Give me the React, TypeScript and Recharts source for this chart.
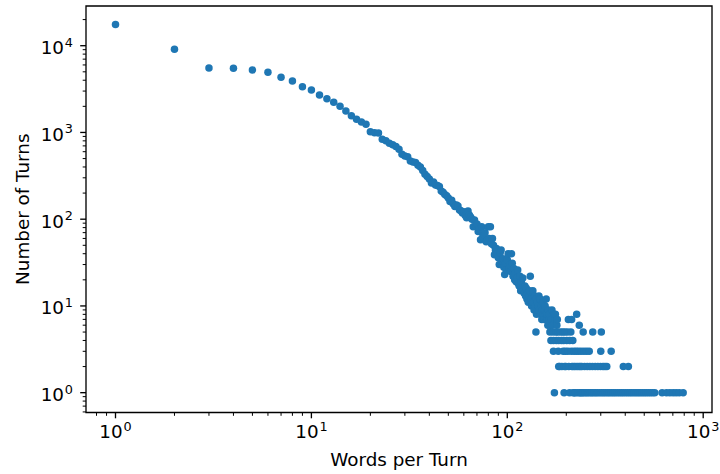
import React from "react";
import { ScatterChart, Scatter, XAxis, YAxis, ReferenceArea } from "recharts";

// Number of turns for 1..99 words per turn
const headCounts = [
  17500, 9100, 5550, 5500, 5250, 4930, 4320, 3920, 3370, 3085,
  2700, 2450, 2230, 2000, 1770, 1560, 1420, 1320, 1240, 1020,
  995, 985, 835, 800, 750, 720, 690, 640, 560, 535,
  525, 470, 455, 450, 420, 400, 365, 330, 310, 290,
  262, 268, 248, 245, 238, 212, 205, 192, 186, 175,
  160, 165, 150, 140, 146, 142, 128, 125, 118, 122,
  110, 104, 124, 112, 106, 100, 82, 98, 84, 88,
  72, 78, 58, 82, 63, 66, 70, 55, 57, 82,
  60, 82, 52, 60, 50, 39, 44, 46, 40, 36,
  30, 41, 44, 33, 35, 28, 23, 31, 26,
];

// Noisy middle part
const midWords = [
  100, 101, 102, 103, 104, 105, 106, 107, 108, 109,
  110, 111, 112, 113, 114, 115, 116, 117, 118, 119,
  120, 121, 122, 123, 124, 125, 126, 127, 128, 129,
  130, 131, 132, 133, 134, 135, 136, 137, 138, 139,
  140, 141, 142, 143, 144, 145, 146, 147, 148, 149,
  150, 151, 152, 153, 154, 155, 156, 157, 158, 159,
  160, 161, 162, 163, 164, 166, 168, 169, 170, 173,
  175, 176, 179, 180,
];
const midCounts = [
  34, 40, 27, 30, 25, 40, 31, 22, 27, 20,
  24, 19, 21, 26, 18, 17, 22, 15, 19, 16,
  21, 15, 14, 17, 13, 16, 12, 14, 11, 13,
  15, 22, 12, 10, 11, 15, 11, 9, 13, 10,
  12, 8, 11, 9, 10, 13, 9, 12, 8, 10,
  7, 9, 11, 8, 7, 9, 10, 8, 12, 7,
  8, 6, 9, 7, 8, 6, 7, 9, 6, 8,
  7, 8, 6, 7,
];

// Tail: words-per-turn values that occur a given small number of times
const wordsWith8 = [226];
const wordsWith7 = [205, 213];
const wordsWith6 = [233];
const wordsWith5 = [140, 165, 171, 177, 181, 187, 192, 197, 203, 211, 244, 273, 302];
const wordsWith4 = [167, 172, 178, 183, 189, 194, 201, 208, 216];
const wordsWith3 = [172, 182, 193, 198, 204, 212, 219, 225, 231, 238, 246, 254, 262, 300, 339];
const wordsWith2 = [
  183, 185, 190, 196, 199, 206, 214, 218, 222, 227, 232, 236, 240, 248, 256,
  264, 272, 281, 290, 299, 308, 315, 322, 391, 415,
];
const wordsWith1 = [
  174, 195, 208, 217, 220, 223, 229, 234, 237, 241, 245, 250, 255, 260, 266,
  271, 277, 283, 289, 296, 303, 310, 317, 325, 332, 340, 348, 356, 365, 374,
  383, 392, 402, 412, 422, 432, 443, 454, 465, 476, 488, 500, 512, 525, 538,
  552, 566, 617, 650, 676, 702, 727, 754, 790,
];

const xDomain: [number, number] = [0.707, 1109];
const yDomain: [number, number] = [0.591, 28690];
const xMajorTicks = [1, 10, 100, 1000];
const yMajorTicks = [1, 10, 100, 1000, 10000];
const minorMultipliers = [2, 3, 4, 5, 6, 7, 8, 9];

const points: { x: number; y: number }[] = [
  ...headCounts.map((c, i) => ({ x: i + 1, y: c })),
  ...midWords.map((w, i) => ({ x: w, y: midCounts[i] })),
  ...wordsWith8.map((w) => ({ x: w, y: 8 })),
  ...wordsWith7.map((w) => ({ x: w, y: 7 })),
  ...wordsWith6.map((w) => ({ x: w, y: 6 })),
  ...wordsWith5.map((w) => ({ x: w, y: 5 })),
  ...wordsWith4.map((w) => ({ x: w, y: 4 })),
  ...wordsWith3.map((w) => ({ x: w, y: 3 })),
  ...wordsWith2.map((w) => ({ x: w, y: 2 })),
  ...wordsWith1.map((w) => ({ x: w, y: 1 })),
];

function logTicks(domain: [number, number], majors: number[]) {
  const out: number[] = [];
  const decades = [majors[0] / 10, ...majors];
  for (const d of decades) {
    if (d >= domain[0] && d <= domain[1]) out.push(d);
    for (const m of minorMultipliers) {
      const v = d * m;
      if (v >= domain[0] && v <= domain[1]) out.push(v);
    }
  }
  return out.sort((a, b) => a - b);
}

const xTicks = logTicks(xDomain, xMajorTicks);
const yTicks = logTicks(yDomain, yMajorTicks);

const FONT = "DejaVu Sans, Verdana, sans-serif";
const FS = 18.33;
const SUP = 12.8;

const isMajor = (v: number) => {
  const l = Math.log10(v);
  return Math.abs(l - Math.round(l)) < 1e-6;
};

const XTick = (props: any) => {
  const { x, y, payload } = props;
  const v = payload.value;
  const major = isMajor(v);
  const len = major ? 5.8 : 3.3;
  return (
    <g>
      <line x1={x} x2={x} y1={y} y2={y + len} stroke="#000" strokeWidth={major ? 1.33 : 1} />
      {major && (
        <text x={x} y={y + 25.8} textAnchor="middle" fontSize={FS} fontFamily={FONT} fill="#000">
          10
          <tspan dx={0.8} dy={-7.5} fontSize={SUP}>
            {Math.round(Math.log10(v))}
          </tspan>
        </text>
      )}
    </g>
  );
};

const YTick = (props: any) => {
  const { x, y, payload } = props;
  const v = payload.value;
  const major = isMajor(v);
  const len = major ? 5.8 : 3.3;
  return (
    <g>
      <line x1={x} x2={x - len} y1={y} y2={y} stroke="#000" strokeWidth={major ? 1.33 : 1} />
      {major && (
        <text x={x - 13} y={y + 8.5} textAnchor="end" fontSize={FS} fontFamily={FONT} fill="#000">
          10
          <tspan dx={0.8} dy={-7.5} fontSize={SUP}>
            {Math.round(Math.log10(v))}
          </tspan>
        </text>
      )}
    </g>
  );
};

const Dot = (props: any) => <circle cx={props.cx} cy={props.cy} r={3.75} fill="#1f77b4" />;

const XLabel = (props: any) => {
  const vb = props.viewBox || { x: 86, y: 412.5, width: 626, height: 61.5 };
  return (
    <text x={vb.x + vb.width / 2} y={vb.y + 53.8} textAnchor="middle" fontSize={FS} fontFamily={FONT} fill="#000">
      Words per Turn
    </text>
  );
};

const YLabel = (props: any) => {
  const vb = props.viewBox || { x: 0, y: 6, width: 86, height: 406.5 };
  const cx = vb.x + 28.5;
  const cy = vb.y + vb.height / 2;
  return (
    <text x={cx} y={cy} transform={`rotate(-90, ${cx}, ${cy})`} textAnchor="middle" fontSize={FS} fontFamily={FONT} fill="#000">
      Number of Turns
    </text>
  );
};

export default function App() {
  return (
    <div style={{ position: "absolute", left: 0, top: 0, width: 720, height: 474, background: "#fff" }}>
      <ScatterChart width={720} height={474} margin={{ top: 6, right: 8, bottom: 0, left: 0 }}>
        <XAxis
          dataKey="x"
          type="number"
          scale="log"
          domain={xDomain}
          allowDataOverflow
          ticks={xTicks}
          interval={0}
          tick={<XTick />}
          tickLine={false}
          axisLine={false}
          tickSize={0}
          tickMargin={0}
          height={61.5}
          label={XLabel}
        />
        <YAxis
          dataKey="y"
          type="number"
          scale="log"
          domain={yDomain}
          allowDataOverflow
          ticks={yTicks}
          interval={0}
          tick={<YTick />}
          tickLine={false}
          axisLine={false}
          tickSize={0}
          tickMargin={0}
          width={86}
          label={YLabel}
        />
        <Scatter data={points} shape={Dot} isAnimationActive={false} />
        <ReferenceArea
          x1={xDomain[0]}
          x2={xDomain[1]}
          y1={yDomain[0]}
          y2={yDomain[1]}
          fill="none"
          fillOpacity={0}
          stroke="#000"
          strokeWidth={1.33}
          strokeOpacity={1}
          ifOverflow="visible"
        />
      </ScatterChart>
    </div>
  );
}
